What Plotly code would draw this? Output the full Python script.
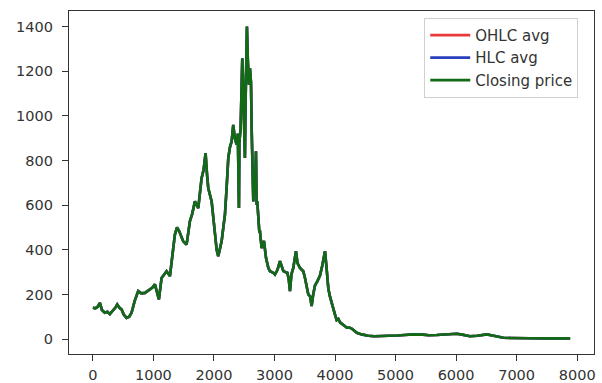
import plotly.graph_objects as go

# Day index of each sample and the price read at that day
day_index = [
    0, 40, 80, 116, 150, 198, 240, 281, 330, 370, 402, 440, 474, 510, 556, 600,
    639, 690, 749, 800, 860, 900, 942, 980, 1025, 1060, 1091, 1135, 1180, 1218,
    1273, 1310, 1355, 1390, 1427, 1460, 1493, 1548, 1575, 1603, 1640, 1686,
    1741, 1770, 1796, 1830, 1862, 1885, 1906, 1962, 1990, 2017, 2045, 2071,
    2100, 2127, 2155, 2182, 2210, 2237, 2265, 2292, 2319, 2345, 2375, 2395,
    2413, 2420, 2441, 2455, 2468, 2482, 2496, 2512, 2522, 2535, 2545, 2560,
    2578, 2595, 2612, 2623, 2640, 2650, 2665, 2678, 2694, 2705, 2716, 2749,
    2760, 2788, 2805, 2826, 2860, 2898, 2926, 2981, 3008, 3050, 3091, 3120,
    3146, 3180, 3212, 3235, 3256, 3280, 3311, 3355, 3380, 3421, 3476, 3504,
    3530, 3559, 3590, 3614, 3640, 3669, 3710, 3752, 3790, 3835, 3860, 3890,
    3917, 3945, 3972, 4000, 4028, 4055, 4083, 4110, 4138, 4165, 4193, 4230,
    4270, 4303, 4360, 4441, 4550, 4650, 4744, 4880, 5020, 5150, 5295, 5450,
    5550, 5681, 5800, 5900, 6012, 6100, 6231, 6350, 6450, 6507, 6600, 6700,
    6782, 6900, 7000, 7223, 7500, 7700, 7884,
]

closing_price = [
    140, 138, 145, 162, 130, 118, 122, 112, 128, 140, 155, 140, 133, 110, 95, 100,
    118, 170, 215, 205, 207, 215, 222, 230, 245, 210, 178, 274, 290, 304,
    282, 380, 468, 500, 483, 460, 438, 423, 480, 528, 560, 617,
    587, 660, 721, 760, 833, 740, 677, 617, 540, 468, 400, 371,
    410, 438, 500, 558, 680, 811, 860, 885, 960, 900, 871, 920,
    587, 880, 945, 1100, 1258, 1150, 1006, 811, 1050, 1300, 1400, 1250,
    1140, 1213, 1150, 945, 800, 617, 700, 662, 841, 602, 617, 483,
    483, 408, 423, 440, 364, 319, 304, 297, 289, 310, 349, 320,
    305, 300, 297, 270, 215, 290, 319, 394, 340, 319, 304, 274,
    240, 200, 190, 148, 200, 240, 260, 285, 330, 394, 320, 225,
    190, 160, 130, 110, 85, 90, 75, 70, 66, 58, 51, 52,
    48, 40, 28, 21, 15, 13, 13, 14, 16, 18, 21, 20,
    17, 18, 20, 21, 24, 20, 13, 15, 20, 21, 16, 10,
    6, 5, 4, 4, 3, 3, 3,
]

# The two averages track the close so tightly they sit under it everywhere
ohlc_avg = list(closing_price)
hlc_avg = list(closing_price)

fig = go.Figure()
fig.add_trace(go.Scatter(x=day_index, y=ohlc_avg, mode="lines", name="OHLC avg",
                         line=dict(color="#e8383a", width=2.6)))
fig.add_trace(go.Scatter(x=day_index, y=hlc_avg, mode="lines", name="HLC avg",
                         line=dict(color="#2b3fbf", width=2.6)))
fig.add_trace(go.Scatter(x=day_index, y=closing_price, mode="lines", name="Closing price",
                         line=dict(color="#116a14", width=2.6)))

# 5% padding on both axes
x_lo, x_hi = min(day_index), max(day_index)
y_lo, y_hi = min(closing_price), max(closing_price)
xpad = 0.05 * (x_hi - x_lo)
ypad = 0.05 * (y_hi - y_lo)

axis_common = dict(
    showgrid=False, zeroline=False, showline=True, mirror=True,
    linecolor="#333333", linewidth=1.3, ticks="outside", ticklen=6,
    tickcolor="#333333", automargin=False,
    tickfont=dict(family="DejaVu Sans", size=14.5, color="#333333"),
)

fig.update_layout(
    width=602, height=383,
    margin=dict(l=69, r=8, t=11, b=29),
    paper_bgcolor="white", plot_bgcolor="white",
    font=dict(family="DejaVu Sans", size=15, color="#333333"),
    showlegend=True,
    legend=dict(x=0.97, y=0.98, xanchor="right", yanchor="top", itemwidth=40,
                bgcolor="rgba(255,255,255,0.9)", bordercolor="#d0d0d0", borderwidth=1,
                font=dict(family="DejaVu Sans", size=15, color="#333333")),
    xaxis=dict(range=[x_lo - xpad, x_hi + xpad], tick0=0, dtick=1000,
               ticklabelstandoff=1, **axis_common),
    yaxis=dict(range=[y_lo - ypad, y_hi + ypad], tick0=0, dtick=200,
               ticklabelstandoff=6, **axis_common),
)

fig.write_html("out.html")
